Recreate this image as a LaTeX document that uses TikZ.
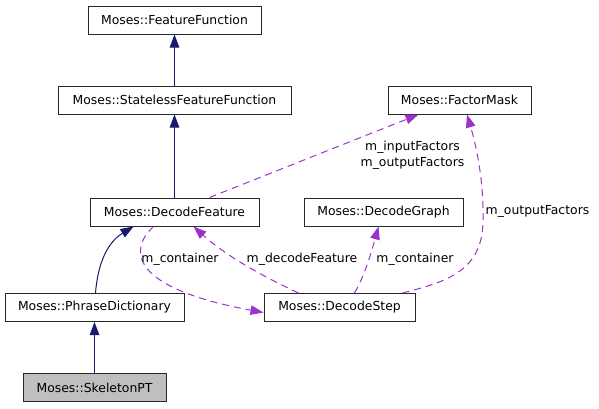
\documentclass[tikz,border=0pt]{standalone}
\usepackage{fontspec}
\setmainfont{DejaVu Sans}
\usetikzlibrary{arrows.meta}
\definecolor{navy}{HTML}{191970}
\definecolor{purp}{HTML}{9A32CD}
\begin{document}
\begin{tikzpicture}[x=1pt,y=-1pt,
 cls/.style={draw=black!85, line width=1pt, fill=white, minimum height=28pt, inner sep=0pt, font=\fontsize{12.4}{14}\selectfont},
 inh/.style={navy, line width=1pt, -{Triangle[length=13pt,width=9.5pt]}},
 use/.style={purp, line width=1pt, dash pattern=on 7pt off 5pt, -{Triangle[length=13pt,width=9.5pt]}},
 lbl/.style={font=\fontsize{12.4}{14}\selectfont, inner sep=0pt, align=center}]
\useasboundingbox (0,0) rectangle (599,408);
\node[cls, minimum width=173pt] (FF) at (174.5,20) {Moses::FeatureFunction};
\node[cls, minimum width=233pt] (SFF) at (174.5,100) {Moses::StatelessFeatureFunction};
\node[cls, minimum width=143pt] (FM) at (459.5,100) {Moses::FactorMask};
\node[cls, minimum width=169pt] (DF) at (174.5,212) {Moses::DecodeFeature};
\node[cls, minimum width=159pt] (DG) at (383.5,212) {Moses::DecodeGraph};
\node[cls, minimum width=179pt] (PD) at (94.5,307.5) {Moses::PhraseDictionary};
\node[cls, minimum width=151pt] (DS) at (339.5,307.5) {Moses::DecodeStep};
\node[cls, minimum width=143pt, fill=black!25] (SPT) at (94.5,387.5) {Moses::SkeletonPT};

\draw[inh] (SFF) -- (FF);
\draw[inh] (DF) -- (SFF);
\draw[inh] (SPT) -- (PD);
\draw[inh] ([xshift=1pt]PD.north) .. controls (98,262) and (108,242) .. ([xshift=-41pt]DF.south);

\draw[use] ([xshift=35pt]DF.north) -- ([xshift=-41pt]FM.south);
\node[lbl] (l1) at (412.5,147) {m\_inputFactors};
\node[lbl] (l2) at (412.5,163) {m\_outputFactors};

\draw[use] ([xshift=-21pt]DF.south) .. controls (128,250) and (130,288) .. ([yshift=-5pt]DS.west);
\node[lbl] (l3) at (180,259) {m\_container};

\draw[use] ([xshift=-41pt]DS.north) .. controls (260,275) and (225,255) .. ([xshift=19pt]DF.south);
\node[lbl] (l4) at (302,259) {m\_decodeFeature};

\draw[use] ([xshift=15pt]DS.north) .. controls (365,275) and (372,250) .. ([xshift=-5pt]DG.south);
\node[lbl] (l5) at (415,259) {m\_container};

\draw[use] ([xshift=63pt]DS.north) .. controls (445,282) and (482,272) .. (483,222) .. controls (484,180) and (476,145) .. ([xshift=7.5pt]FM.south);
\node[lbl] (l6) at (537.5,211) {m\_outputFactors};
\end{tikzpicture}
\end{document}
